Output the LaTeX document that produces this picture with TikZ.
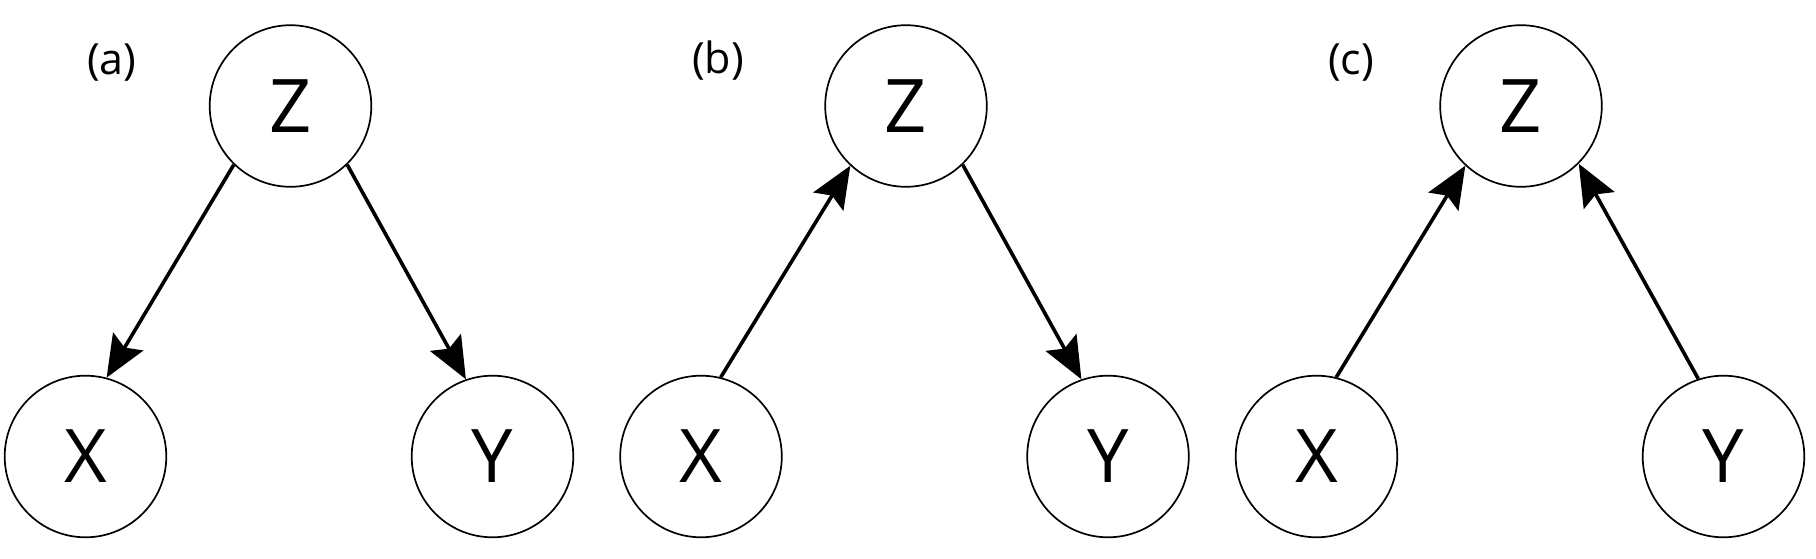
\documentclass[tikz,border=0pt]{standalone}
\usepackage{fontspec}
\setmainfont{Open Sans}
\usetikzlibrary{arrows.meta}
\begin{document}
\begin{tikzpicture}[x=1pt,y=1pt,
  var/.style={circle,draw=black,line width=1.7pt,minimum size=161.6pt,inner sep=0pt,
    font=\fontsize{74}{80}\selectfont},
  lbl/.style={inner sep=0pt,font=\fontsize{43}{50}\selectfont},
  edge/.style={line width=3.6pt,-{Stealth[length=42pt,width=35pt,inset=7pt]}}]
\useasboundingbox (0,0) rectangle (1816,558);
% panel (a)
\node[var] (Za) at (290.5,452) {Z};
\node[var] (Xa) at (85.5,101.5) {X};
\node[var] (Ya) at (492.5,101.5) {Y};
\node[lbl] (la) at (111.7,495.5) {(a)};
\draw[edge] (Za.226) -- (Xa.75);
\draw[edge] (Za.314) -- (Ya.109);
% panel (b)
\node[var] (Zb) at (906,452) {Z};
\node[var] (Xb) at (701,101.5) {X};
\node[var] (Yb) at (1108,101.5) {Y};
\node[lbl] (lb) at (718,497) {(b)};
\draw[edge] (Xb.76) -- (Zb.227);
\draw[edge] (Zb.314) -- (Yb.109);
% panel (c)
\node[var] (Zc) at (1521,452) {Z};
\node[var] (Xc) at (1316.5,101.5) {X};
\node[var] (Yc) at (1723.5,101.5) {Y};
\node[lbl] (lc) at (1351,495.5) {(c)};
\draw[edge] (Xc.76) -- (Zc.227);
\draw[edge] (Yc.108) -- (Zc.315);
\end{tikzpicture}
\end{document}
